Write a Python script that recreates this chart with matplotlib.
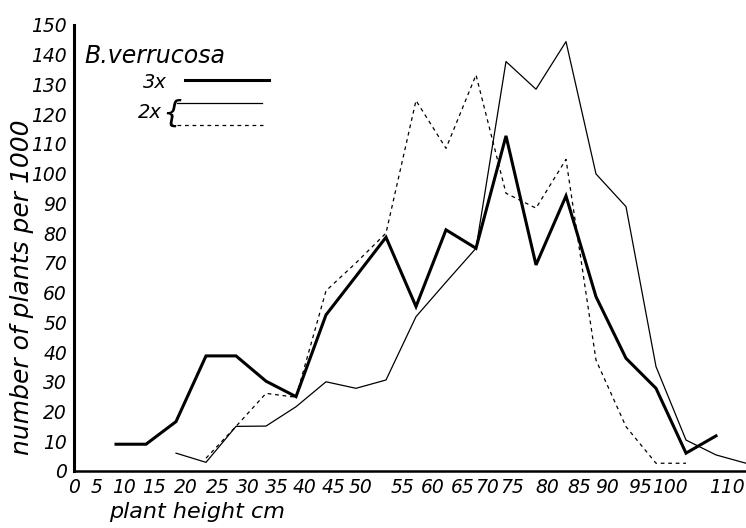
import matplotlib.pyplot as plt

plt.rcParams['font.family'] = 'DejaVu Sans'
plt.rcParams['font.style'] = 'italic'

# plant height classes (cm) and plants per 1000
x_3x = [7, 12, 17, 22, 27, 32, 37, 42, 47, 52, 57, 62, 67, 72, 77, 82, 87, 92, 97, 102, 107]
y_3x = [9, 9, 16.6, 38.7, 38.7, 30.2, 25, 52.5, 65.5, 78.6, 55.3, 81.1, 74.9, 112.7, 69.3,
        92.5, 58.6, 37.9, 27.8, 6.0, 11.8]

x_2x_a = [17, 22, 27, 32, 37, 42, 47, 52, 57, 62, 67, 72, 77, 82, 87, 92, 97, 102, 107, 112]
y_2x_a = [6, 2.9, 15, 15.1, 21.6, 30, 27.8, 30.6, 51.9, 63.5, 74.9, 137.7, 128.4, 144.4,
          99.9, 88.9, 35.1, 10.4, 5.4, 2.6]

x_2x_b = [22, 27, 32, 37, 42, 47, 52, 57, 62, 67, 72, 77, 82, 87, 92, 97, 102]
y_2x_b = [4.3, 15, 26.1, 24.8, 60.6, 70, 80, 124.6, 108.5, 133.2, 93.4, 88.4, 104.8,
          37.3, 14.9, 2.6, 2.6]

# hand-lettered x labels are not evenly spaced
xtick_labels = ['0', '5', '10', '15', '20', '25', '30', '35', '40', '45', '50', '55', '60',
                '65', '70', '75', '80', '85', '90', '95', '100', '110']
xtick_pos = [0, 3.8, 8.3, 13.3, 18.7, 24, 29, 33.8, 38.5, 43.2, 47.8, 54.7, 59.7, 64.7,
             68.8, 73, 78.8, 84.2, 88.8, 94.3, 99.3, 108.8]
ytick_pos = list(range(0, 151, 10))

fig = plt.figure(figsize=(7.46, 5.28), dpi=100)
ax = fig.add_axes([0.0992, 0.108, 0.9008, 0.8447])

ax.plot(x_3x, y_3x, color='black', lw=2.2, solid_joinstyle='miter', clip_on=False)
ax.plot(x_2x_a, y_2x_a, color='black', lw=0.9, clip_on=False)
ax.plot(x_2x_b, y_2x_b, color='black', lw=0.9, dashes=(3, 3), clip_on=False)

ax.set_xlim(0, 112)
ax.set_ylim(0, 150)
ax.spines['top'].set_visible(False)
ax.spines['right'].set_visible(False)
ax.spines['left'].set_linewidth(2.2)
ax.spines['bottom'].set_linewidth(1.8)

ax.set_xticks(xtick_pos)
ax.set_xticklabels(xtick_labels)
ax.set_yticks(ytick_pos)
ax.tick_params(length=0, labelsize=13.5)
ax.tick_params(axis='x', pad=5)
ax.tick_params(axis='y', pad=5)

# key in the upper left corner
ax.text(0.016, 0.915, 'B.verrucosa', transform=ax.transAxes, fontsize=17, va='baseline')
ax.text(0.1205, 0.872, '3x', transform=ax.transAxes, fontsize=14, ha='center', va='center')
ax.plot([0.165, 0.29], [0.877, 0.877], transform=ax.transAxes, color='black', lw=2.2)
ax.text(0.113, 0.803, '2x', transform=ax.transAxes, fontsize=14, ha='center', va='center')
ax.text(0.146, 0.803, '{', transform=ax.transAxes, fontsize=22, ha='center', va='center',
        fontweight='light')
ax.plot([0.153, 0.28], [0.825, 0.825], transform=ax.transAxes, color='black', lw=0.9)
ax.plot([0.153, 0.281], [0.776, 0.776], transform=ax.transAxes, color='black', lw=0.9,
        dashes=(3, 3))

fig.text(0.264, 0.030, 'plant height cm', fontsize=16, ha='center', va='center')
fig.text(0.030, 0.456, 'number of plants per 1000', fontsize=18, rotation=90,
         ha='center', va='center')

fig.savefig('out.png', dpi=100)
